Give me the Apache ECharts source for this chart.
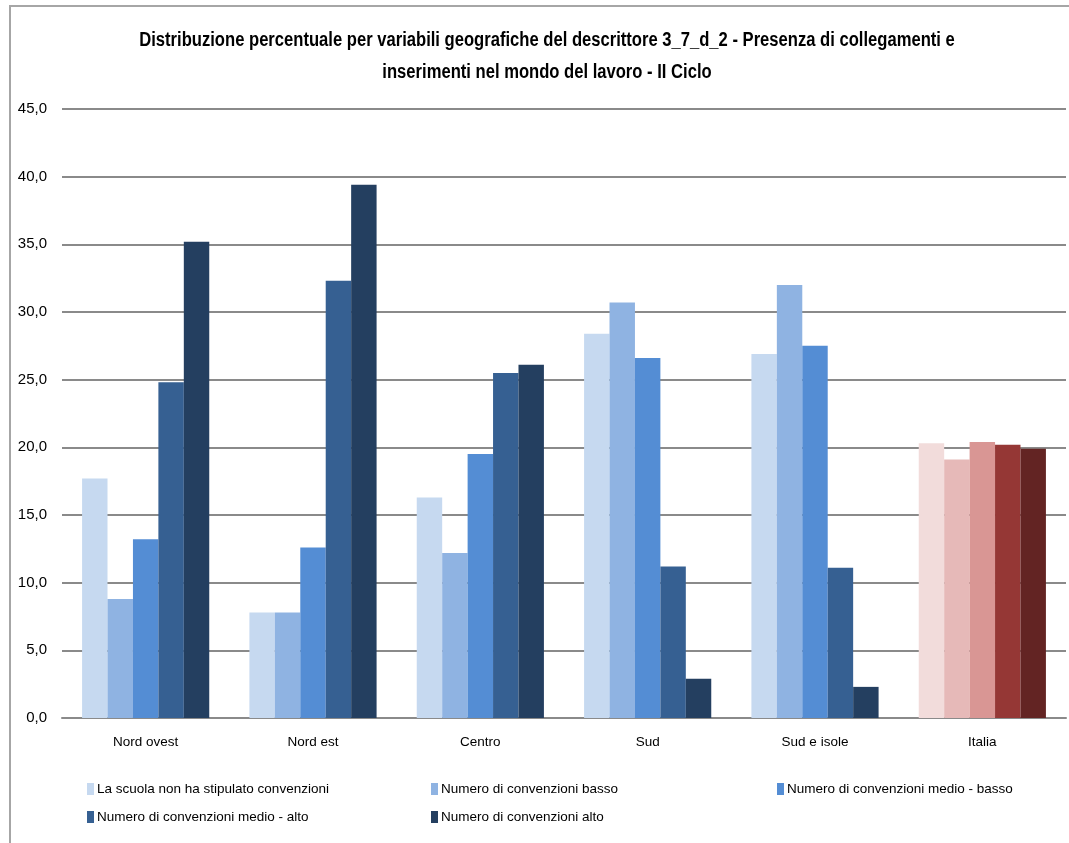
<!DOCTYPE html>
<html>
<head>
<meta charset="utf-8">
<script src="https://cdn.jsdelivr.net/npm/echarts@6/dist/echarts.min.js"></script>
<style>
  html, body { margin: 0; padding: 0; background: #ffffff; }
  #chart { width: 1069px; height: 843px; }
</style>
</head>
<body>
<div id="chart"></div>
<script>
// Categories (geographic areas)
const categories = ['Nord ovest', 'Nord est', 'Centro', 'Sud', 'Sud e isole', 'Italia'];

// Series names
const seriesNames = [
  'La scuola non ha stipulato convenzioni',
  'Numero di convenzioni basso',
  'Numero di convenzioni medio - basso',
  'Numero di convenzioni medio - alto',
  'Numero di convenzioni alto'
];

// Percentages per category, one array per series
const nessuna    = [17.7, 7.8, 16.3, 28.4, 26.9, 20.3];
const basso      = [8.8, 7.8, 12.2, 30.7, 32.0, 19.1];
const medioBasso = [13.2, 12.6, 19.5, 26.6, 27.5, 20.4];
const medioAlto  = [24.8, 32.3, 25.5, 11.2, 11.1, 20.2];
const alto       = [35.2, 39.4, 26.1, 2.9, 2.3, 19.9];

// Y axis ticks
const yTicks = { min: 0, max: 45, interval: 5 };

const titleLines = [
  'Distribuzione percentuale per variabili geografiche del descrittore 3_7_d_2 - Presenza di collegamenti e',
  'inserimenti nel mondo del lavoro - II Ciclo'
];

const blues = ['#c6d9f0', '#8fb3e2', '#548dd4', '#366092', '#243f60'];
const reds  = ['#f2dcdb', '#e6b9b8', '#d99694', '#953735', '#632423'];

const sans = "'Liberation Sans', Arial, sans-serif";

const allValues = [nessuna, basso, medioBasso, medioAlto, alto];

const series = allValues.map((vals, si) => ({
  name: seriesNames[si],
  type: 'bar',
  barGap: '0%',
  barCategoryGap: '24%',
  itemStyle: { color: blues[si] },
  data: vals.map((v, ci) => categories[ci] === 'Italia'
    ? { value: v, itemStyle: { color: reds[si] } }
    : v)
}));

const legendBase = {
  orient: 'vertical',
  padding: 0,
  itemWidth: 7,
  itemHeight: 12,
  itemGap: 14,
  icon: 'rect',
  textStyle: { fontFamily: sans, fontSize: 13.5, color: '#000', padding: [0, 0, 0, -2] },
  selectedMode: false
};

// Title drawn as condensed bold text (horizontally compressed)
const titleGraphics = titleLines.map((line, i) => ({
  type: 'text',
  x: 547,
  y: 40 + i * 32,
  scaleX: 0.83,
  silent: true,
  style: {
    text: line,
    font: 'bold 20px ' + sans,
    fill: '#000',
    textAlign: 'center',
    textVerticalAlign: 'middle'
  }
}));

const chart = echarts.init(document.getElementById('chart'), null, { renderer: 'canvas' });
chart.setOption({
  backgroundColor: '#ffffff',
  animation: false,
  graphic: [{
    type: 'rect',
    shape: { x: 10, y: 6, width: 1200, height: 1000 },
    style: { fill: null, stroke: '#a6a6a6', lineWidth: 2 },
    silent: true
  }].concat(titleGraphics),
  legend: [
    Object.assign({}, legendBase, { left: 87, top: 782, data: [seriesNames[0], seriesNames[3]] }),
    Object.assign({}, legendBase, { left: 431, top: 782, data: [seriesNames[1], seriesNames[4]] }),
    Object.assign({}, legendBase, { left: 777, top: 782, data: [seriesNames[2]] })
  ],
  grid: { left: 62, right: 3, top: 109, bottom: 125, containLabel: false },
  xAxis: {
    type: 'category',
    data: categories,
    axisLine: { lineStyle: { color: '#8a8a8a', width: 2 } },
    axisTick: { show: false },
    axisLabel: { fontFamily: sans, fontSize: 13.5, color: '#000', margin: 17 }
  },
  yAxis: {
    type: 'value',
    min: yTicks.min,
    max: yTicks.max,
    interval: yTicks.interval,
    axisLine: { show: false },
    axisTick: { show: false },
    splitLine: { lineStyle: { color: '#8a8a8a', width: 2 } },
    axisLabel: {
      fontFamily: sans,
      fontSize: 15,
      color: '#000',
      margin: 15,
      formatter: v => v.toFixed(1).replace('.', ',')
    }
  },
  series: series
});
</script>
</body>
</html>
